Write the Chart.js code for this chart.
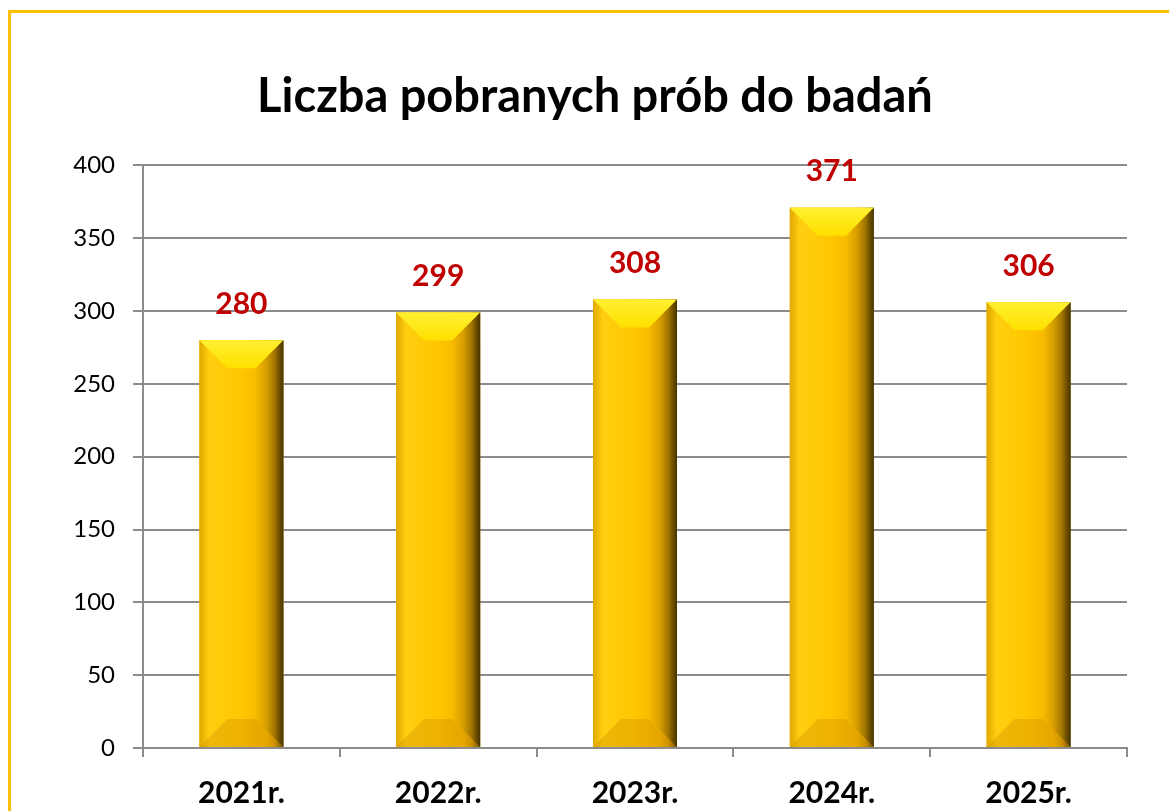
<!DOCTYPE html>
<html>
<head>
<meta charset="utf-8">
<script src="https://cdn.jsdelivr.net/npm/chart.js@4"></script>
<style>
  html, body { margin: 0; padding: 0; background: #fff; overflow: hidden; }
  #frame { position: absolute; left: 8px; top: 10px; width: 1200px; height: 900px; border: 3px solid #FFC000; }
  #wrap { position: absolute; left: 0; top: 0; width: 1169px; height: 811px; }
</style>
</head>
<body>
<div id="frame"></div>
<div id="wrap"><canvas id="chart"></canvas></div>
<script>
const years = ['2021r.', '2022r.', '2023r.', '2024r.', '2025r.'];
const samples = [280, 299, 308, 371, 306];
const yTicks = [0, 50, 100, 150, 200, 250, 300, 350, 400];

// gold bars with bevelled top/bottom and a dark right edge
const bevelBars = {
    id: 'bevelBars',
    afterDatasetsDraw(chart) {
        const ctx = chart.ctx;
        chart.getDatasetMeta(0).data.forEach(bar => {
            const l = bar.x - bar.width / 2, r = bar.x + bar.width / 2;
            const t = bar.y, b = bar.base;
            const d = Math.min(28, (b - t) / 2);
            ctx.save();
            const g = ctx.createLinearGradient(l, 0, r, 0);
            g.addColorStop(0, '#E2A800');
            g.addColorStop(0.12, '#FFCF10');
            g.addColorStop(0.5, '#FFC600');
            g.addColorStop(0.8, '#F2B400');
            g.addColorStop(0.9, '#C89200');
            g.addColorStop(1, '#4A3600');
            ctx.fillStyle = g;
            ctx.fillRect(l, t, r - l, b - t);

            // top bevel
            const gt = ctx.createLinearGradient(0, t, 0, t + d);
            gt.addColorStop(0, '#FFF030');
            gt.addColorStop(1, '#FFE000');
            ctx.fillStyle = gt;
            ctx.beginPath();
            ctx.moveTo(l, t); ctx.lineTo(r, t);
            ctx.lineTo(r - d, t + d); ctx.lineTo(l + d, t + d);
            ctx.closePath(); ctx.fill();

            // bottom bevel
            ctx.fillStyle = 'rgba(205,140,0,0.35)';
            ctx.beginPath();
            ctx.moveTo(l, b); ctx.lineTo(r, b);
            ctx.lineTo(r - d, b - d); ctx.lineTo(l + d, b - d);
            ctx.closePath(); ctx.fill();

            // right side shading
            const gr = ctx.createLinearGradient(r - d, 0, r, 0);
            gr.addColorStop(0, 'rgba(120,80,0,0)');
            gr.addColorStop(1, 'rgba(70,50,0,0.5)');
            ctx.fillStyle = gr;
            ctx.beginPath();
            ctx.moveTo(r, t); ctx.lineTo(r, b);
            ctx.lineTo(r - d, b - d); ctx.lineTo(r - d, t + d);
            ctx.closePath(); ctx.fill();
            ctx.restore();
        });
    }
};

const valueLabels = {
    id: 'valueLabels',
    afterDatasetsDraw(chart) {
        const ctx = chart.ctx;
        ctx.save();
        ctx.font = 'bold 30px Lato';
        ctx.fillStyle = '#C00000';
        ctx.textAlign = 'center';
        ctx.textBaseline = 'middle';
        chart.getDatasetMeta(0).data.forEach((bar, i) => {
            ctx.fillText(String(samples[i]), bar.x, bar.y - 36);
        });
        ctx.restore();
    }
};

new Chart(document.getElementById('chart'), {
    type: 'bar',
    data: {
        labels: years,
        datasets: [{
            data: samples,
            backgroundColor: '#F5B800',
            borderWidth: 0,
            categoryPercentage: 1,
            barPercentage: 0.427
        }]
    },
    options: {
        responsive: true,
        maintainAspectRatio: false,
        animation: false,
        layout: { padding: { left: 21, right: 0, top: 0, bottom: 0 } },
        plugins: {
            legend: { display: false },
            tooltip: { enabled: false },
            title: {
                display: true,
                text: 'Liczba pobranych prób do badań',
                color: '#000',
                font: { family: 'Lato', size: 47, weight: 'bold' },
                padding: { top: 69, bottom: 40 }
            }
        },
        scales: {
            y: {
                min: 0,
                max: 400,
                afterBuildTicks: s => { s.ticks = yTicks.map(v => ({ value: v })); },
                afterFit: s => { s.width = 122; },
                ticks: { color: '#000', font: { family: 'Lato', size: 24 }, padding: 18 },
                grid: { color: '#8C8C8C', lineWidth: 2, tickLength: 10 },
                border: { color: '#8C8C8C', width: 2 }
            },
            yRight: {
                position: 'right',
                afterFit: s => { s.width = 42; },
                ticks: { display: false },
                grid: { display: false },
                border: { display: false }
            },
            x: {
                offset: true,
                afterFit: s => { s.height = 63; },
                ticks: { color: '#000', font: { family: 'Lato', size: 30, weight: 'bold' }, padding: 18 },
                grid: { offset: true, drawOnChartArea: false, color: '#8C8C8C', lineWidth: 2, tickLength: 9 },
                border: { color: '#8C8C8C', width: 2 }
            }
        }
    },
    plugins: [bevelBars, valueLabels]
});
</script>
</body>
</html>
